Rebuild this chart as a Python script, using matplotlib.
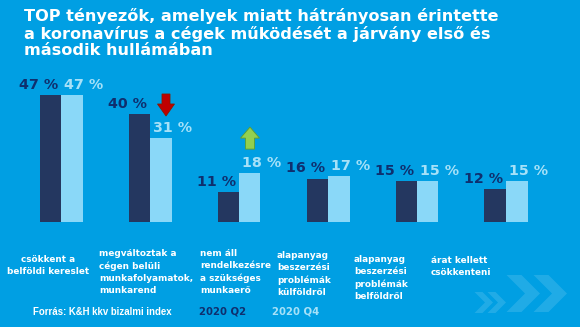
import numpy as np
import matplotlib
matplotlib.use("Agg")
import matplotlib.pyplot as plt
from matplotlib.patches import FancyArrow, Polygon

categories = [
    "csökkent a\nbelföldi kereslet",
    "megváltoztak a\ncégen belüli\nmunkafolyamatok,\nmunkarend",
    "nem áll\nrendelkezésre\na szükséges\nmunkaerő",
    "alapanyag\nbeszerzési\nproblémák\nkülföldről",
    "alapanyag\nbeszerzési\nproblémák\nbelföldről",
    "árat kellett\ncsökkenteni",
]
q2_2020 = [47, 40, 11, 16, 15, 12]
q4_2020 = [47, 31, 18, 17, 15, 15]
series_names = ["2020 Q2", "2020 Q4"]
title = ("TOP tényezők, amelyek miatt hátrányosan érintette\n"
         "a koronavírus a cégek működését a járvány első és\n"
         "második hullámában")
source = "Forrás: K&H kkv bizalmi index"

BG = "#009FE3"
DARK = "#243760"
LIGHT = "#8AD8F8"
DARK_TXT = "#0F2F6E"
LIGHT_TXT = "#A6E1F8"

W, H = 580, 327
fig = plt.figure(figsize=(W / 100, H / 100), dpi=100, facecolor=BG)
ax = fig.add_axes([0, 0, 1, 1])
ax.set_facecolor(BG)

# pixel -> data helpers (group spacing 89 px, 2.7 px per %)
GX0, GSP, BASE, PPU = 61, 89, 221.7, 2.7
ax.set_xlim(-GX0 / GSP, (W - GX0) / GSP)
ax.set_ylim((BASE - H) / PPU, BASE / PPU)
ax.axis("off")

def px(dx):
    return dx / GSP

def py(dy):
    return dy / PPU

x = np.arange(len(categories))
w = px(21.5)
ax.bar(x - w / 2, q2_2020, w, color=DARK)
ax.bar(x + w / 2, q4_2020, w, color=LIGHT)

for i in range(len(x)):
    ax.text(x[i] - px(3), q2_2020[i] + py(6), f"{q2_2020[i]} %", ha="right",
            va="baseline", fontsize=10.3, fontweight="bold", color=DARK_TXT)
    ax.text(x[i] + px(3), q4_2020[i] + py(6), f"{q4_2020[i]} %", ha="left",
            va="baseline", fontsize=10.3, fontweight="bold", color=LIGHT_TXT)

# change markers
v = q4_2020[1]
ax.add_patch(FancyArrow(x[1] + px(16), v + py(44), 0, -py(22), width=px(8),
                        head_width=px(17), head_length=py(12), length_includes_head=True,
                        color="#C00000", ec="#8A1A00", lw=0.6))
v = q4_2020[2]
ax.add_patch(FancyArrow(x[2] + px(11), v + py(24), 0, py(22), width=px(9),
                        head_width=px(19), head_length=py(11), length_includes_head=True,
                        color="#92D050", ec="#5E9E2E", lw=0.6))

# category labels (text boxes sit a bit unevenly in the original)
cat_dx = [-13, -51, -39, -51, -63, -75]
cat_dy = [6, 0, 0, 2, 6, 7]
cat_ha = ["center", "left", "left", "left", "left", "left"]
for i, lab in enumerate(categories):
    ax.text(x[i] + px(cat_dx[i]), py(BASE - 249 - cat_dy[i]), lab, ha=cat_ha[i], va="top",
            fontsize=6.4, fontweight="bold", color="white", linespacing=1.45,
            multialignment=cat_ha[i])

fig.text(24 / W, 1 - 8 / H, title, ha="left", va="top", fontsize=11.6,
         fontweight="bold", color="white", linespacing=1.12)

yf = 1 - 312 / H
fig.text(33 / W, yf, source, ha="left", va="center", fontsize=6.9, fontweight="bold",
         color="white", family="Liberation Sans")
fig.text(199 / W, yf, series_names[0], ha="left", va="center", fontsize=7.3, fontweight="bold", color=DARK_TXT)
fig.text(272 / W, yf, series_names[1], ha="left", va="center", fontsize=7.3, fontweight="bold", color=LIGHT_TXT)

# decorative chevrons
def chevron(tip, cy, h, t):
    pts = [(tip - t - h, cy - h), (tip - h, cy - h), (tip, cy), (tip - h, cy + h),
           (tip - t - h, cy + h), (tip - t, cy)]
    return Polygon([(a / W, 1 - b / H) for a, b in pts], closed=True,
                   transform=fig.transFigure, fc="white", alpha=0.13, ec="none")

for tip in (540, 567):
    fig.patches.append(chevron(tip, 293.5, 18.5, 15))
for tip in (493, 506):
    fig.patches.append(chevron(tip, 302.5, 10.5, 8))

fig.savefig("out.png", dpi=100, facecolor=BG)
